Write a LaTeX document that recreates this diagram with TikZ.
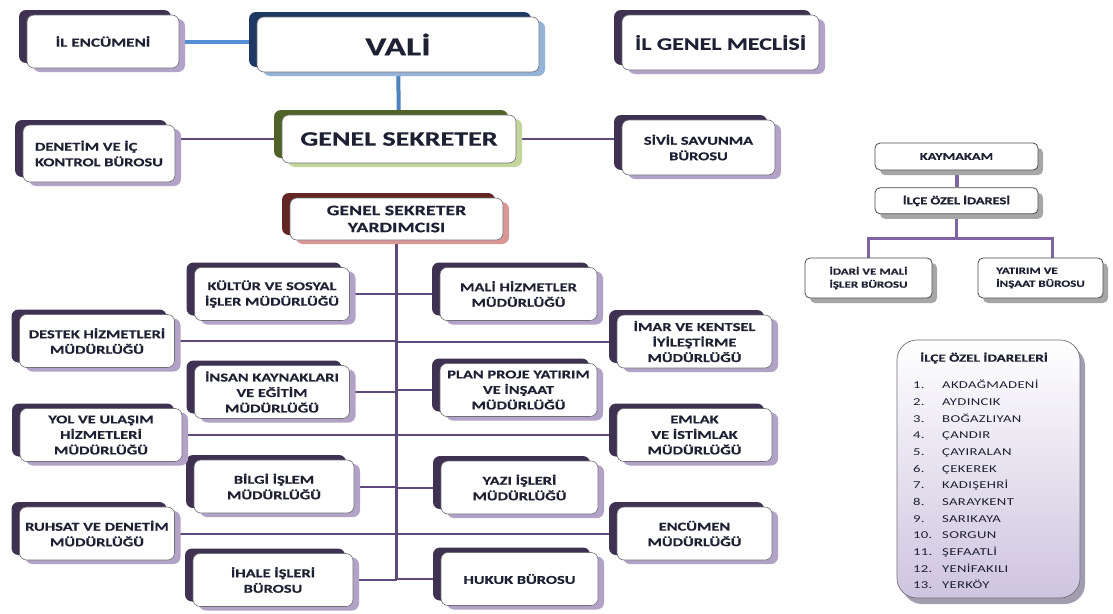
\documentclass[tikz,border=0pt]{standalone}
\usepackage{fontspec}
\setmainfont{Carlito}[FakeStretch=1.37, BoldFeatures={FakeBold=0.4}]
\newfontfamily\listfont{Carlito}[FakeStretch=1.4, LetterSpace=3]
\usepackage{xcolor}
\definecolor{ink}{HTML}{1E2133}
\definecolor{edgegray}{HTML}{6F6F78}
\definecolor{lavdark}{HTML}{3F3151}
\definecolor{lavlight}{HTML}{B3A2C7}
\definecolor{validark}{HTML}{1F3864}
\definecolor{valilight}{HTML}{95B3D7}
\definecolor{gsdark}{HTML}{4F6228}
\definecolor{gslight}{HTML}{C3D69B}
\definecolor{gsydark}{HTML}{632523}
\definecolor{gsylight}{HTML}{D99694}
\definecolor{encline}{HTML}{558ED5}
\definecolor{valiline}{HTML}{4F81BD}
\definecolor{gsline}{HTML}{77933C}
\definecolor{trunk}{HTML}{5F497A}
\definecolor{smallline}{HTML}{8064A2}
\definecolor{shadegray}{HTML}{A6A6A6}
\definecolor{listlav}{HTML}{CEC4DF}
\definecolor{listshade}{HTML}{A39DB0}
\usepackage{tikz}
\usetikzlibrary{positioning, shadows, backgrounds}

\newcommand{\unitfont}{\bfseries\fontsize{12}{15.5}\selectfont}
\newcommand{\smallfont}{\bfseries\fontsize{10.5}{13}\selectfont}

\begin{document}
\begin{tikzpicture}[x=1pt, y=-1pt,
    face/.style={draw=edgegray, line width=0.6pt, fill=white, rounded corners=7pt,
        align=center, text=ink, font=\unitfont, inner sep=2pt},
    bevel/.style 2 args={general shadow={fill=#2, shadow xshift=6pt, shadow yshift=-4pt},
        general shadow={fill=#1, shadow xshift=-8pt, shadow yshift=5pt}},
    unit/.style={face, bevel={lavdark}{lavlight}},
    colbox/.style={unit, minimum width=155pt, minimum height=53pt},
    smallbox/.style={face, draw=black!70, line width=0.8pt, rounded corners=5pt, font=\smallfont,
        general shadow={fill=shadegray, shadow xshift=5pt, shadow yshift=-5pt}},
    branch/.style={trunk, line width=2pt},
    listnum/.style={anchor=west, text=ink, font=\listfont\fontsize{10.5}{12}\selectfont,
        text height=7.5pt, text depth=2pt, inner sep=0pt}]
    \useasboundingbox (0,0) rectangle (1113,613);

    % top level
    \node[face, bevel={validark}{valilight}, minimum width=282pt, minimum height=55pt,
        font=\bfseries\fontsize{26}{28}\selectfont] (vali) at (398,44.5) {VALİ};
    \node[unit, minimum width=152pt, minimum height=53pt, font=\bfseries\fontsize{12.5}{15}\selectfont] (ilenc) at (103,41.5) {İL ENCÜMENİ};
    \node[unit, minimum width=197pt, minimum height=55pt, font=\bfseries\fontsize{17.5}{20}\selectfont] (meclis) at (720.5,42.5) {İL GENEL MECLİSİ};

    \node[face, bevel={gsdark}{gslight}, minimum width=234pt, minimum height=48pt,
        font=\bfseries\fontsize{20.5}{24}\selectfont] (gs) at (399,139) {GENEL SEKRETER};
    \node[unit, minimum width=152pt, minimum height=57pt, align=left] (denetim) at (99,153.5) {DENETİM VE İÇ\\KONTROL BÜROSU};
    \node[unit, minimum width=153pt, minimum height=55pt] (sivil) at (698.5,147.5) {SİVİL SAVUNMA\\BÜROSU};

    \node[face, bevel={gsydark}{gsylight}, minimum width=213pt, minimum height=42pt,
        font=\bfseries\fontsize{14.5}{17}\selectfont] (gsy) at (396.5,219) {GENEL SEKRETER\\YARDIMCISI};

    % units, left
    \node[colbox] (kultur) at (272,294) {KÜLTÜR VE SOSYAL\\İŞLER MÜDÜRLÜĞÜ};
    \node[colbox] (insan) at (272,392) {İNSAN KAYNAKLARI\\VE EĞİTİM\\MÜDÜRLÜĞÜ};
    \node[colbox, minimum width=160pt] (bilgi) at (274,486.5) {BİLGİ İŞLEM\\MÜDÜRLÜĞÜ};
    \node[colbox, minimum width=160pt] (ihale) at (273,580) {İHALE İŞLERİ\\BÜROSU};
    \node[colbox] (destek) at (97,341) {DESTEK HİZMETLERİ\\MÜDÜRLÜĞÜ};
    \node[colbox, minimum width=162pt] (yol) at (101,435) {YOL VE ULAŞIM\\HİZMETLERİ\\MÜDÜRLÜĞÜ};
    \node[colbox] (ruhsat) at (97,533.5) {RUHSAT VE DENETİM\\MÜDÜRLÜĞÜ};

    % units, right
    \node[colbox, minimum width=157pt] (mali) at (518.5,294) {MALİ HİZMETLER\\MÜDÜRLÜĞÜ};
    \node[colbox, minimum width=157pt] (plan) at (518.5,390) {PLAN PROJE YATIRIM\\VE İNŞAAT\\MÜDÜRLÜĞÜ};
    \node[colbox, minimum width=157pt] (yazi) at (519.5,487.5) {YAZI İŞLERİ\\MÜDÜRLÜĞÜ};
    \node[colbox, minimum width=157pt] (hukuk) at (519.5,579) {HUKUK BÜROSU};
    \node[colbox] (imar) at (694.5,341.5) {İMAR VE KENTSEL\\İYİLEŞTİRME\\MÜDÜRLÜĞÜ};
    \node[colbox] (emlak) at (694.5,435) {EMLAK\\VE İSTİMLAK\\MÜDÜRLÜĞÜ};
    \node[colbox] (encumen) at (694.5,533.5) {ENCÜMEN\\MÜDÜRLÜĞÜ};

    % district side
    \node[smallbox, minimum width=163pt, minimum height=27pt] (kaymakam) at (956.5,156.5) {KAYMAKAM};
    \node[smallbox, minimum width=163pt, minimum height=26pt, below=17pt of kaymakam] (ilceoi) {İLÇE ÖZEL İDARESİ};
    \node[smallbox, minimum width=127pt, minimum height=40pt, align=left, font=\bfseries\fontsize{9.5}{13}\selectfont] (idari) at (868.5,278) {İDARİ VE MALİ\\İŞLER BÜROSU};
    \node[smallbox, minimum width=125pt, minimum height=40pt, align=left, font=\bfseries\fontsize{9.5}{13}\selectfont] (yatirim) at (1040.5,278) {YATIRIM VE\\İNŞAAT BÜROSU};

    \node[draw=edgegray, line width=0.7pt, rounded corners=20pt, top color=white, bottom color=listlav,
        general shadow={fill=listshade, shadow xshift=5pt, shadow yshift=-6pt},
        minimum width=183pt, minimum height=258pt] (ilceler) at (988.5,469) {};
    \node[text=ink, font=\bfseries\fontsize{11}{13}\selectfont] (ilcetitle) at (984,358) {İLÇE ÖZEL İDARELERİ};
    \foreach \ad [count=\i] in {AKDAĞMADENİ, AYDINCIK, BOĞAZLIYAN, ÇANDIR, ÇAYIRALAN, ÇEKEREK,
        KADIŞEHRİ, SARAYKENT, SARIKAYA, SORGUN, ŞEFAATLİ, YENİFAKILI, YERKÖY} {
        \node[listnum] (num\i) at (913,{386+(\i-1)*16.67}) {\i.};
        \node[listnum] (ad\i) at (942,{386+(\i-1)*16.67}) {\ad};
    }

    % connectors
    \begin{scope}[on background layer]
        \fill[white] (0,0) rectangle (1113,613);
        \draw[encline, line width=4pt] (ilenc.east) -- (ilenc.east -| vali.west);
        \draw[valiline, line width=4pt] (vali) -- (gs);
        \draw[gsline, line width=4pt] (gs.south) -- (gs.south -| gsy.north);
        \draw[branch] (gs.west) -- (gs.west -| denetim.east);
        \draw[branch] (gs.east) -- (gs.east -| sivil.west);
        \draw[trunk, line width=3pt] (gsy.south) -- (gsy.south |- ihale.east);
        \foreach \u in {kultur, insan, bilgi, ihale, destek, yol, ruhsat}
            \draw[branch] (\u.east) -- (\u.east -| gsy.south);
        \foreach \u in {mali, plan, yazi, hukuk, imar, emlak, encumen}
            \draw[branch] (\u.west) -- (\u.west -| gsy.south);
        \draw[smallline, line width=4pt] (kaymakam) -- (ilceoi);
        \draw[smallline, line width=3pt] (ilceoi.south) -- ++(0,24) coordinate (fork);
        \draw[smallline, line width=3pt] (idari.north) |- (fork) -| ([xshift=12pt]yatirim.north);
    \end{scope}
\end{tikzpicture}
\end{document}
